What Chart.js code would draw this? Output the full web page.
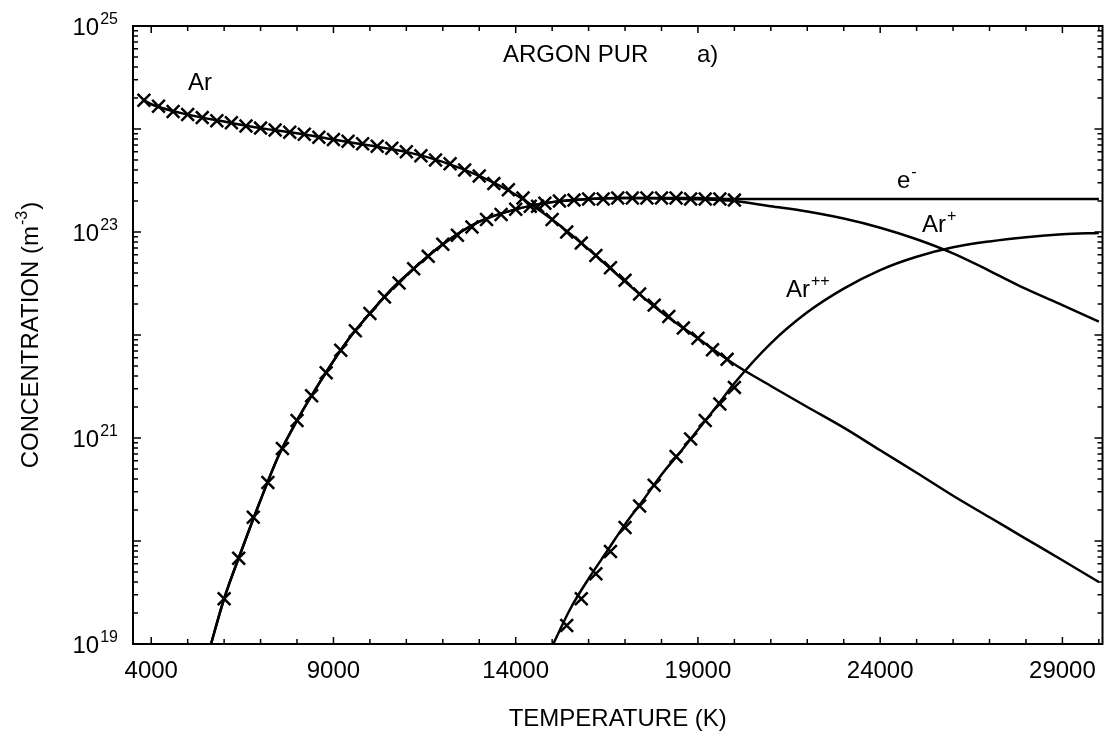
<!DOCTYPE html>
<html>
<head>
<meta charset="utf-8">
<title>Argon pur</title>
<script src="https://cdn.jsdelivr.net/npm/chart.js@4.4.0/dist/chart.umd.min.js"></script>
<style>
    html, body { margin: 0; padding: 0; background: #ffffff; }
</style>
</head>
<body>
<canvas id="grafica" width="1114" height="748"></canvas>
<script>
// temperatures in K, concentrations in m^-3

// full calculation (solid lines)
const tAr = [3800, 4000, 5000, 6000, 7000, 8000, 9000, 10000, 11000, 12000, 13000, 14000, 15000, 16000,
    17000, 18000, 19000, 20000, 21000, 22000, 23000, 24000, 25000, 26000, 27000, 28000, 29000, 30000];
const nAr = [1.9e24, 1.74e24, 1.38e24, 1.18e24, 1.02e24, 9.1e23, 7.9e23, 6.9e23, 6.0e23, 4.8e23, 3.5e23, 2.3e23, 1.32e23, 6.8e22,
    3.3e22, 1.66e22, 9.3e21, 5.2e21, 3.2e21, 2.0e21, 1.26e21, 7.6e20, 4.6e20, 2.75e20, 1.7e20, 1.05e20, 6.5e19, 4.0e19];

const tIon = [5600, 6000, 6500, 7000, 7500, 8000, 8500, 9000, 9500, 10000, 10500, 11000, 12000, 13000, 14000, 15000,
    16000, 17000, 18000, 19000, 20000, 21000, 22000, 23000, 24000, 25000, 26000, 27000, 28000, 29000, 30000];
const nElec = [8.9e18, 2.75e19, 8.5e19, 2.5e20, 6.8e20, 1.48e21, 2.95e21, 5.6e21, 1.0e22, 1.62e22, 2.57e22, 3.8e22, 7.6e22, 1.26e23, 1.66e23, 1.95e23,
    2.09e23, 2.14e23, 2.14e23, 2.14e23, 2.09e23, 2.09e23, 2.09e23, 2.09e23, 2.09e23, 2.09e23, 2.09e23, 2.09e23, 2.09e23, 2.09e23, 2.09e23];
const nArPlus = [8.9e18, 2.75e19, 8.5e19, 2.5e20, 6.8e20, 1.48e21, 2.95e21, 5.6e21, 1.0e22, 1.62e22, 2.57e22, 3.8e22, 7.6e22, 1.26e23, 1.66e23, 1.95e23,
    2.09e23, 2.14e23, 2.12e23, 2.08e23, 2.0e23, 1.78e23, 1.58e23, 1.35e23, 1.1e23, 8.5e22, 6.2e22, 4.2e22, 2.8e22, 1.95e22, 1.35e22];

const tAr2 = [15000, 15500, 16000, 16500, 17000, 17500, 18000, 18500, 19000, 19500, 20000,
    21000, 22000, 23000, 24000, 25000, 26000, 27000, 28000, 29000, 30000];
const nAr2 = [9.5e18, 2.2e19, 4.3e19, 7.9e19, 1.45e20, 2.5e20, 4.4e20, 7.2e20, 1.2e21, 2.0e21, 3.4e21,
    8.3e21, 1.66e22, 2.82e22, 4.27e22, 5.75e22, 7.1e22, 8.1e22, 8.9e22, 9.5e22, 9.8e22];

// second calculation (crosses)
const tArMk = [3800, 4200, 4600, 5000, 5400, 5800, 6200, 6600, 7000, 7400, 7800, 8200, 8600, 9000, 9400, 9800, 10200,
    10600, 11000, 11400, 11800, 12200, 12600, 13000, 13400, 13800, 14200, 14600, 15000, 15400, 15800, 16200,
    16600, 17000, 17400, 17800, 18200, 18600, 19000, 19400, 19800];
const nArMk = [1.9e24, 1.66e24, 1.48e24, 1.38e24, 1.29e24, 1.2e24, 1.15e24, 1.07e24, 1.02e24, 9.8e23, 9.3e23, 8.9e23, 8.3e23, 7.9e23, 7.6e23, 7.2e23, 6.8e23,
    6.5e23, 6.0e23, 5.5e23, 5.0e23, 4.6e23, 4.0e23, 3.5e23, 2.95e23, 2.57e23, 2.14e23, 1.78e23, 1.32e23, 1.0e23, 7.8e22, 5.9e22,
    4.5e22, 3.4e22, 2.5e22, 1.95e22, 1.51e22, 1.17e22, 9.3e21, 7.2e21, 5.8e21];

const tElMk = [6000, 6400, 6800, 7200, 7600, 8000, 8400, 8800, 9200, 9600, 10000, 10400, 10800, 11200, 11600, 12000, 12400,
    12800, 13200, 13600, 14000, 14400, 14800, 15200, 15600, 16000, 16400, 16800, 17200, 17600, 18000, 18400,
    18800, 19200, 19600, 20000];
const nElMk = [2.75e19, 6.8e19, 1.7e20, 3.7e20, 7.9e20, 1.48e21, 2.57e21, 4.3e21, 7.1e21, 1.1e22, 1.62e22, 2.34e22, 3.2e22, 4.4e22, 5.8e22, 7.6e22, 9.3e22,
    1.12e23, 1.32e23, 1.48e23, 1.66e23, 1.78e23, 1.9e23, 2.0e23, 2.04e23, 2.09e23, 2.09e23, 2.14e23, 2.14e23, 2.14e23, 2.14e23, 2.14e23,
    2.09e23, 2.09e23, 2.09e23, 2.04e23];

const tAr2Mk = [15400, 15800, 16200, 16600, 17000, 17400, 17800, 18400, 18800, 19200, 19600, 20000];
const nAr2Mk = [1.51e19, 2.75e19, 4.8e19, 7.9e19, 1.35e20, 2.19e20, 3.47e20, 6.6e20, 9.8e20, 1.48e21, 2.14e21, 3.1e21];

// axes
const xTickValues = [4000, 9000, 14000, 19000, 24000, 29000];
const xTickLabels = ["4000", "9000", "14000", "19000", "24000", "29000"];
const yTickValues = [1e19, 1e21, 1e23, 1e25];
const yTickLabels = [["10", "19"], ["10", "21"], ["10", "23"], ["10", "25"]];

const FONT = "'Liberation Sans', Arial, sans-serif";

function pts(ts, ns) {
    return ts.map(function (t, i) { return { x: t, y: ns[i] }; });
}

// text with a raised exponent
function supText(ctx, base, sup, x, y, align) {
    ctx.font = "24px " + FONT;
    let wb = ctx.measureText(base).width;
    ctx.font = "16px " + FONT;
    let ws = ctx.measureText(sup).width;
    let x0 = align === "right" ? x - wb - ws - 1 : x;
    ctx.textAlign = "left";
    ctx.font = "24px " + FONT;
    ctx.fillText(base, x0, y);
    ctx.font = "16px " + FONT;
    ctx.fillText(sup, x0 + wb + 1, y - 11);
}

const cadre = {
    id: "cadre",
    afterDraw: function (chart) {
        let ctx = chart.ctx;
        let a = chart.chartArea;
        let sx = chart.scales.x;
        let sy = chart.scales.y;
        ctx.save();
        ctx.strokeStyle = "#000";
        ctx.fillStyle = "#000";

        // frame
        ctx.lineWidth = 2;
        ctx.strokeRect(a.left, a.top, a.right - a.left, a.bottom - a.top);

        // inward ticks on the four sides
        ctx.lineWidth = 1.5;
        ctx.beginPath();
        for (let t = 4000; t <= 30000; t += 1000) {
            let px = sx.getPixelForValue(t);
            let len = xTickValues.includes(t) ? 7 : 5;
            ctx.moveTo(px, a.bottom);
            ctx.lineTo(px, a.bottom - len);
            ctx.moveTo(px, a.top);
            ctx.lineTo(px, a.top + len);
        }
        for (let d = 19; d < 25; d++) {
            for (let k = 1; k <= 9; k++) {
                let py = sy.getPixelForValue(k * Math.pow(10, d));
                let len = k === 1 ? 8 : 5;
                ctx.moveTo(a.left, py);
                ctx.lineTo(a.left + len, py);
                ctx.moveTo(a.right, py);
                ctx.lineTo(a.right - len, py);
            }
        }
        ctx.stroke();

        // tick labels
        ctx.font = "24px " + FONT;
        ctx.textAlign = "center";
        ctx.textBaseline = "alphabetic";
        xTickValues.forEach(function (t, i) {
            ctx.fillText(xTickLabels[i], sx.getPixelForValue(t), 678);
        });
        yTickValues.forEach(function (v, i) {
            let py = sy.getPixelForValue(v);
            supText(ctx, yTickLabels[i][0], yTickLabels[i][1], 118, py + 9, "right");
        });

        // axis titles
        ctx.font = "24px " + FONT;
        ctx.textAlign = "center";
        ctx.fillText("TEMPERATURE (K)", (a.left + a.right) / 2, 726);

        ctx.save();
        ctx.translate(38, (a.top + a.bottom) / 2);
        ctx.rotate(-Math.PI / 2);
        ctx.font = "24px " + FONT;
        let w1 = ctx.measureText("CONCENTRATION (m").width;
        let w3 = ctx.measureText(")").width;
        ctx.font = "16px " + FONT;
        let w2 = ctx.measureText("-3").width;
        let x0 = -(w1 + w2 + w3 + 2) / 2;
        ctx.textAlign = "left";
        ctx.font = "24px " + FONT;
        ctx.fillText("CONCENTRATION (m", x0, 0);
        ctx.font = "16px " + FONT;
        ctx.fillText("-3", x0 + w1 + 1, -11);
        ctx.font = "24px " + FONT;
        ctx.fillText(")", x0 + w1 + w2 + 2, 0);
        ctx.restore();

        // labels inside the plot
        ctx.font = "24px " + FONT;
        ctx.textAlign = "left";
        ctx.fillText("ARGON PUR", 503, 62);
        ctx.fillText("a)", 697, 62);
        ctx.fillText("Ar", 188, 90);
        supText(ctx, "e", "-", 897, 188, "left");
        supText(ctx, "Ar", "+", 922, 232, "left");
        supText(ctx, "Ar", "++", 786, 297, "left");

        ctx.restore();
    }
};

document.addEventListener("DOMContentLoaded", function () {

    let micanvas = document.getElementById("grafica").getContext("2d");

    let linea = {
        borderColor: "#000000",
        borderWidth: 2.5,
        pointRadius: 0,
        fill: false,
        cubicInterpolationMode: "monotone"
    };
    let cruces = {
        showLine: false,
        pointStyle: "crossRot",
        pointRadius: 9,
        pointBorderWidth: 2.5,
        borderColor: "#000000",
        backgroundColor: "#000000"
    };

    let chart = new Chart(micanvas, {
        type: "line",
        data: {
            datasets: [
                Object.assign({ label: "Ar", data: pts(tAr, nAr) }, linea),
                Object.assign({ label: "e-", data: pts(tIon, nElec) }, linea),
                Object.assign({ label: "Ar+", data: pts(tIon, nArPlus) }, linea),
                Object.assign({ label: "Ar++", data: pts(tAr2, nAr2) }, linea),
                Object.assign({ label: "Ar (x)", data: pts(tArMk, nArMk) }, cruces),
                Object.assign({ label: "e- (x)", data: pts(tElMk, nElMk) }, cruces),
                Object.assign({ label: "Ar++ (x)", data: pts(tAr2Mk, nAr2Mk) }, cruces)
            ]
        },
        options: {
            responsive: false,
            animation: false,
            layout: {
                padding: { left: 133, right: 7, top: 26, bottom: 104 }
            },
            scales: {
                x: {
                    type: "linear",
                    display: false,
                    min: 3500,
                    max: 30100
                },
                y: {
                    type: "logarithmic",
                    display: false,
                    min: 1e19,
                    max: 1e25
                }
            },
            plugins: {
                legend: { display: false },
                tooltip: { enabled: false }
            }
        },
        plugins: [cadre]
    });

});
</script>
</body>
</html>
